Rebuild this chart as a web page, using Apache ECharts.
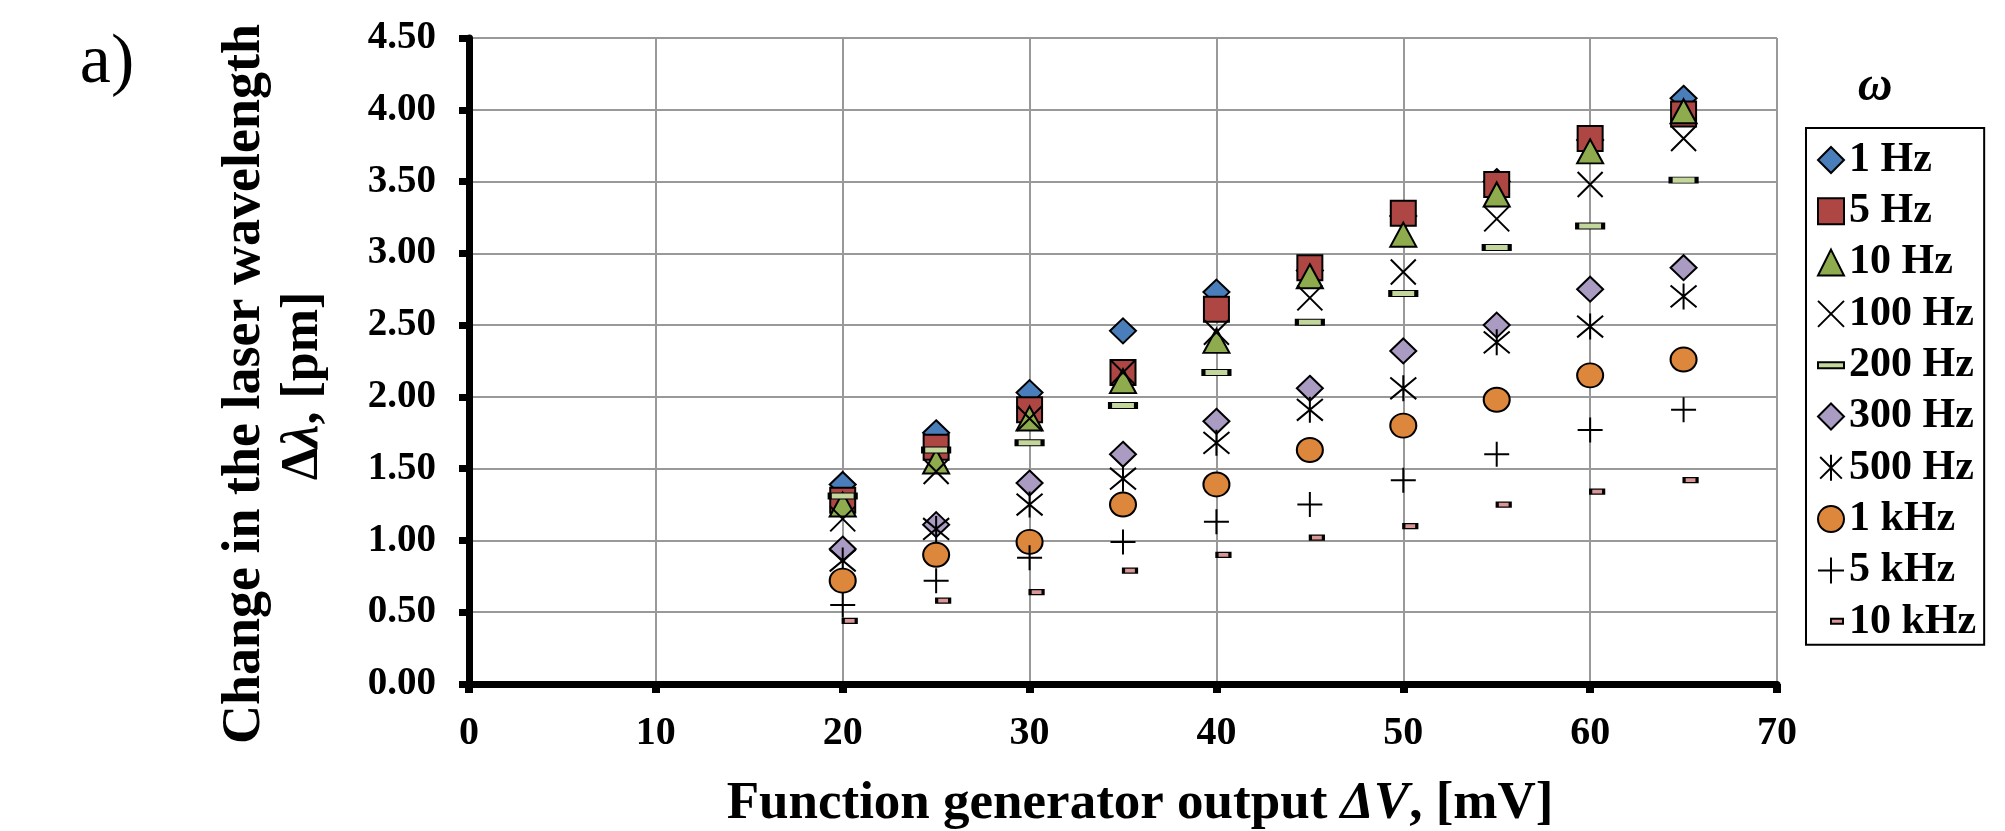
<!DOCTYPE html>
<html>
<head>
<meta charset="utf-8">
<script src="https://cdn.jsdelivr.net/npm/echarts@6/dist/echarts.min.js"></script>
<style>
  html, body { margin: 0; padding: 0; background: #fff; }
  #main { width: 2005px; height: 831px; }
</style>
</head>
<body>
<div id="main"></div>
<script>
// data
var voltages = [20, 25, 30, 35, 40, 45, 50, 55, 60, 65];
var hz1    = [1.39, 1.75, 2.03, 2.46, 2.73, 2.88, 3.26, 3.50, 3.79, 4.08];
var hz5    = [1.28, 1.65, 1.91, 2.17, 2.61, 2.90, 3.28, 3.48, 3.80, 3.97];
var hz10   = [1.25, 1.55, 1.85, 2.11, 2.39, 2.84, 3.13, 3.41, 3.71, 3.99];
var hz100  = [1.15, 1.48, 1.85, 2.17, 2.45, 2.69, 2.87, 3.24, 3.48, 3.80];
var hz200  = [1.31, 1.63, 1.68, 1.94, 2.17, 2.52, 2.72, 3.04, 3.19, 3.51];
var hz300  = [0.94, 1.11, 1.40, 1.60, 1.83, 2.06, 2.32, 2.50, 2.75, 2.90];
var hz500  = [0.86, 1.08, 1.25, 1.43, 1.68, 1.91, 2.06, 2.38, 2.49, 2.70];
var khz1   = [0.72, 0.90, 0.99, 1.25, 1.39, 1.63, 1.80, 1.98, 2.15, 2.26];
var khz5   = [0.55, 0.72, 0.88, 0.99, 1.13, 1.25, 1.42, 1.60, 1.77, 1.91];
var khz10  = [0.44, 0.58, 0.64, 0.79, 0.90, 1.02, 1.10, 1.25, 1.34, 1.42];

var seriesNames = ['1 Hz', '5 Hz', '10 Hz', '100 Hz', '200 Hz', '300 Hz', '500 Hz', '1 kHz', '5 kHz', '10 kHz'];
var yTicks = [0, 0.5, 1, 1.5, 2, 2.5, 3, 3.5, 4, 4.5];
var xTicks = [0, 10, 20, 30, 40, 50, 60, 70];

var FONT = "'Liberation Serif', 'Times New Roman', serif";

function pairs(ys) {
  return voltages.map(function (x, i) { return [x, ys[i]]; });
}

// marker shapes
var X_PATH = 'path://M0 0L10 10M10 0L0 10';
var PLUS_PATH = 'path://M0 5L10 5M5 0L5 10';
var STAR_PATH = 'path://M0 0L10 10M10 0L0 10M5 -1L5 11';

function mk(name, ys, symbol, size, color, extra) {
  var s = {
    name: name,
    type: 'scatter',
    data: pairs(ys),
    symbol: symbol,
    symbolSize: size,
    itemStyle: {
      color: color,
      borderColor: '#000',
      borderWidth: 2,
      opacity: 1
    },
    emphasis: { disabled: true }
  };
  if (extra) for (var k in extra) s[k] = extra[k];
  return s;
}

var series = [
  mk('1 Hz', hz1, 'diamond', [26, 25], '#4A7EBB'),
  mk('5 Hz', hz5, 'rect', [25, 25], '#AE4744'),
  mk('10 Hz', hz10, 'triangle', [26, 24], '#8EAB4D'),
  mk('100 Hz', hz100, X_PATH, 25, 'transparent'),
  mk('200 Hz', hz200, 'rect', [26, 6], '#C3D69B'),
  mk('300 Hz', hz300, 'diamond', [26, 25], '#A99BC2'),
  mk('500 Hz', hz500, STAR_PATH, 26, 'transparent'),
  mk('1 kHz', khz1, 'circle', [26, 24], '#DD873C'),
  mk('5 kHz', khz5, PLUS_PATH, 25, 'transparent'),
  mk('10 kHz', khz10, 'rect', [13, 5], '#D99694', { symbolOffset: [7, 0] })
];

var legendIcons = {
  '200 Hz': 'path://M0 0M26 26M0 10h26v6h-26z',
  '10 kHz': 'path://M0 0M26 26M13 10h12v5h-12z'
};

var chart = echarts.init(document.getElementById('main'));

chart.setOption({
  animation: false,
  backgroundColor: '#fff',
  grid: { left: 469, right: 228, top: 38, bottom: 147 },
  xAxis: {
    type: 'value',
    min: xTicks[0],
    max: xTicks[xTicks.length - 1],
    interval: 10,
    axisLine: { show: true, onZero: false, lineStyle: { color: '#000', width: 7 } },
    axisTick: { show: true, inside: false, length: 9, lineStyle: { color: '#000', width: 8 } },
    axisLabel: { margin: 30, color: '#000', fontFamily: FONT, fontWeight: 'bold', fontSize: 40 },
    splitLine: { show: true, lineStyle: { color: '#999', width: 2 } }
  },
  yAxis: {
    type: 'value',
    min: yTicks[0],
    max: yTicks[yTicks.length - 1],
    interval: 0.5,
    axisLine: { show: true, onZero: false, lineStyle: { color: '#000', width: 7 } },
    axisTick: { show: true, inside: false, length: 10, lineStyle: { color: '#000', width: 7 } },
    axisLabel: {
      margin: 33, color: '#000', fontFamily: FONT, fontWeight: 'bold', fontSize: 39,
      formatter: function (v) { return v.toFixed(2); }
    },
    splitLine: { show: true, lineStyle: { color: '#999', width: 2 } }
  },
  legend: {
    orient: 'vertical',
    left: 1806,
    top: 128,
    padding: [11, 8, 2, 11],
    itemGap: 9.3,
    itemWidth: 26,
    itemHeight: 26,
    selectedMode: false,
    borderColor: '#000',
    borderWidth: 2,
    textStyle: { color: '#000', fontFamily: FONT, fontWeight: 'bold', fontSize: 42, lineHeight: 40 },
    data: seriesNames.map(function (n) {
      return legendIcons[n] ? { name: n, icon: legendIcons[n] } : { name: n };
    })
  },
  graphic: [
    {
      type: 'text', x: 107, y: 64,
      style: {
        text: 'a)', fill: '#000', font: 'normal 70px ' + FONT,
        align: 'center', verticalAlign: 'middle', textAlign: 'center', textVerticalAlign: 'middle'
      }
    },
    {
      type: 'text', x: 1875, y: 88,
      style: {
        text: 'ω', fill: '#000', font: 'italic bold 48px ' + FONT,
        align: 'center', verticalAlign: 'middle', textAlign: 'center', textVerticalAlign: 'middle'
      }
    },
    {
      type: 'text', x: 245, y: 384, rotation: Math.PI / 2,
      style: {
        text: 'Change in the laser wavelength', fill: '#000', font: 'bold 54px ' + FONT,
        align: 'center', verticalAlign: 'middle', textAlign: 'center', textVerticalAlign: 'middle'
      }
    },
    {
      type: 'text', x: 304, y: 386, rotation: Math.PI / 2,
      style: {
        text: '{n|Δ}{i|λ}{n|, [pm]}', fill: '#000',
        font: 'bold 52px ' + FONT,
        align: 'center', verticalAlign: 'middle', textAlign: 'center', textVerticalAlign: 'middle',
        rich: {
          n: { fontFamily: FONT, fontWeight: 'bold', fontSize: 52, fill: '#000' },
          i: { fontFamily: FONT, fontWeight: 'bold', fontStyle: 'italic', fontSize: 52, fill: '#000' }
        }
      }
    },
    {
      type: 'text', x: 1140, y: 804,
      style: {
        text: '{n|Function generator output }{i|ΔV}{n|, [mV]}', fill: '#000',
        font: 'bold 53px ' + FONT,
        align: 'center', verticalAlign: 'middle', textAlign: 'center', textVerticalAlign: 'middle',
        rich: {
          n: { fontFamily: FONT, fontWeight: 'bold', fontSize: 53, fill: '#000' },
          i: { fontFamily: FONT, fontWeight: 'bold', fontStyle: 'italic', fontSize: 53, fill: '#000' }
        }
      }
    }
  ],
  series: series
});
</script>
</body>
</html>
